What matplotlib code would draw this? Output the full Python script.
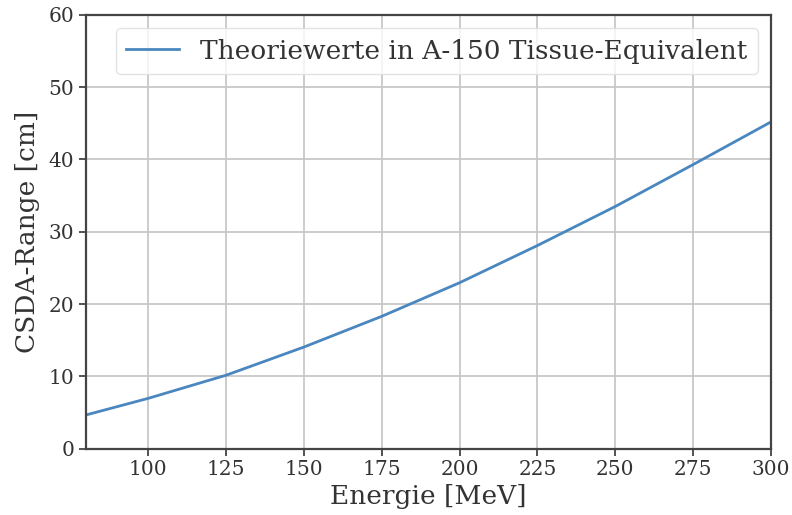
import numpy as np
import matplotlib
matplotlib.use("Agg")
import matplotlib.pyplot as plt

# Werte (PSTAR, A-150)
energie = [80, 100, 125, 150, 175, 200, 225, 250, 275, 300]
csda_range = [4.65, 6.95, 10.15, 14.05, 18.3, 22.95, 28.1, 33.5, 39.3, 45.2]

plt.rcParams['font.family'] = 'DejaVu Serif'

fig = plt.figure(figsize=(7.92, 5.15), dpi=100)
ax = fig.add_axes([0.1086, 0.129, 0.8649, 0.842])

ax.plot(energie, csda_range, color='#4a86bf', lw=2,
        label='Theoriewerte in A-150 Tissue-Equivalent')

ax.set_xlim(80, 300)
ax.set_ylim(0, 60)
ax.set_xticks([100, 125, 150, 175, 200, 225, 250, 275, 300])
ax.set_yticks(range(0, 61, 10))
ax.grid(True, color='#c8c8c8', lw=1.3)
ax.set_axisbelow(True)

for s in ax.spines.values():
    s.set_color('#444444')
    s.set_linewidth(1.6)
ax.tick_params(labelsize=14.5, colors='#444444', labelcolor='#333333', width=1.3, length=5)

ax.set_xlabel('Energie [MeV]', fontsize=19, color='#333333', labelpad=3)
ax.set_ylabel('CSDA-Range [cm]', fontsize=19, color='#333333', labelpad=6)
ax.legend(loc='upper right', fontsize=19, fancybox=True, framealpha=0.8,
          edgecolor='#dddddd', labelcolor='#333333')

fig.savefig('out.png', dpi=100)
